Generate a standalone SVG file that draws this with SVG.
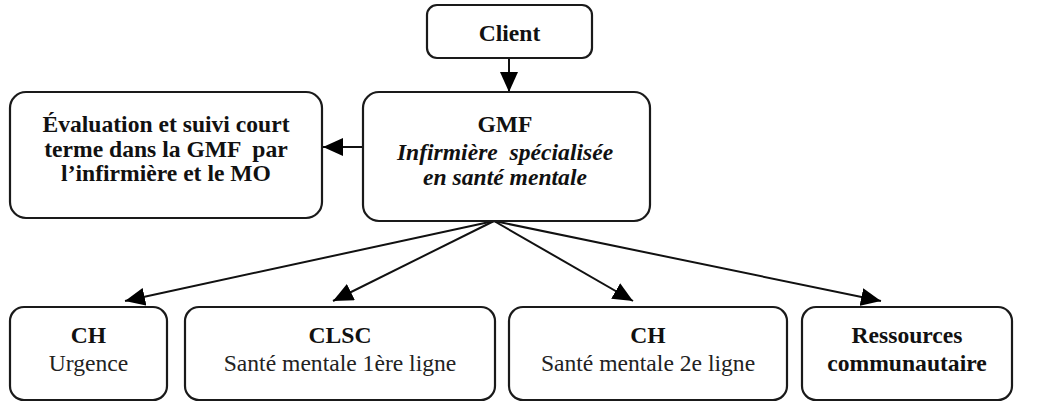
<svg xmlns="http://www.w3.org/2000/svg" width="1039" height="411" viewBox="0 0 1039 411">
<style>
.box{fill:#fff;stroke:#1a1a1a;stroke-width:2.2}
text{font-family:'Liberation Serif','Times New Roman','DejaVu Serif',serif;font-size:23.6px;fill:#111;text-anchor:middle}
.b{font-weight:bold}
.r{fill:#222}
.bi{font-weight:bold;font-style:italic}
.c{stroke:#111;stroke-width:2;fill:none}
</style>
<defs>
<marker id="ah" markerUnits="userSpaceOnUse" markerWidth="21" markerHeight="18" refX="20" refY="9" orient="auto">
<path d="M0,0 L20,9 L0,18 Z" fill="#000"/>
</marker>
</defs>
<g id="connectors">
<line class="c" x1="509" y1="58" x2="509" y2="92" marker-end="url(#ah)"/>
<line class="c" x1="363" y1="147" x2="323" y2="147" marker-end="url(#ah)"/>
<line class="c" x1="494" y1="221" x2="125" y2="301" marker-end="url(#ah)"/>
<line class="c" x1="494" y1="221" x2="333" y2="301" marker-end="url(#ah)"/>
<line class="c" x1="494" y1="221" x2="633" y2="301" marker-end="url(#ah)"/>
<line class="c" x1="494" y1="221" x2="881" y2="301" marker-end="url(#ah)"/>
</g>
<g id="client">
<rect class="box" x="427" y="5" width="165" height="53" rx="10"/>
<text class="b" x="509.5" y="41">Client</text>
</g>
<g id="evaluation">
<rect class="box" x="10" y="92" width="312" height="126" rx="16"/>
<text class="b" x="166" y="132">Évaluation et suivi court</text>
<text class="b" x="166" y="157" xml:space="preserve">terme dans la GMF  par</text>
<text class="b" x="166" y="181">l’infirmière et le MO</text>
</g>
<g id="gmf">
<rect class="box" x="363" y="92" width="287" height="129" rx="16"/>
<text class="b" x="505" y="132">GMF</text>
<text class="bi" x="505" y="160" xml:space="preserve">Infirmière  spécialisée</text>
<text class="bi" x="505" y="185">en santé mentale</text>
</g>
<g id="ch-urgence">
<rect class="box" x="10" y="307" width="157" height="93" rx="14"/>
<text class="b" x="88.5" y="343">CH</text>
<text class="r" x="88.5" y="371">Urgence</text>
</g>
<g id="clsc">
<rect class="box" x="185" y="307" width="310" height="93" rx="14"/>
<text class="b" x="340" y="343">CLSC</text>
<text class="r" x="340" y="371">Santé mentale 1ère ligne</text>
</g>
<g id="ch-2e">
<rect class="box" x="509" y="307" width="278" height="93" rx="14"/>
<text class="b" x="648" y="343">CH</text>
<text class="r" x="648" y="371">Santé mentale 2e ligne</text>
</g>
<g id="ressources">
<rect class="box" x="802" y="307" width="210" height="93" rx="14"/>
<text class="b" x="907" y="343">Ressources</text>
<text class="b" x="907" y="371">communautaire</text>
</g>
</svg>
